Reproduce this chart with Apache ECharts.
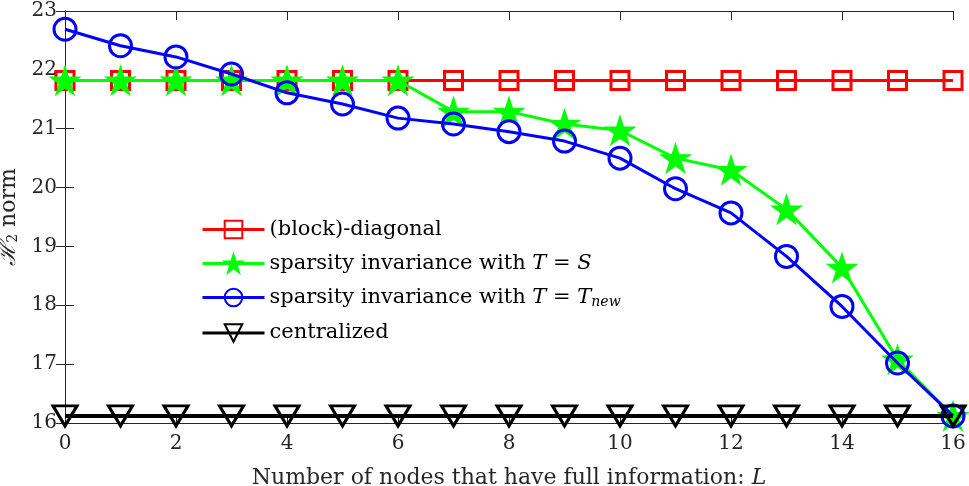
<!DOCTYPE html>
<html>
<head>
<meta charset="utf-8">
<script src="https://cdn.jsdelivr.net/npm/echarts@6/dist/echarts.min.js"></script>
<style>html,body{margin:0;padding:0;background:#fff}#c{width:969px;height:486px}</style>
</head>
<body>
<div id="c"></div>
<script>
const L = [0,1,2,3,4,5,6,7,8,9,10,11,12,13,14,15,16];
const blockDiag = [21.82,21.82,21.82,21.82,21.82,21.82,21.82,21.82,21.82,21.82,21.82,21.82,21.82,21.82,21.82,21.82,21.82];
const sparsityS = [21.82,21.82,21.82,21.82,21.82,21.82,21.82,21.29,21.29,21.08,20.97,20.50,20.30,19.63,18.64,17.08,16.12];
const sparsityTnew = [22.69,22.41,22.22,21.93,21.61,21.42,21.18,21.08,20.95,20.79,20.50,19.98,19.57,18.83,17.98,17.02,16.12];
const centralized = [16.12,16.12,16.12,16.12,16.12,16.12,16.12,16.12,16.12,16.12,16.12,16.12,16.12,16.12,16.12,16.12,16.12];
const names = ['(block)-diagonal','sparsity invariance with T = S','sparsity invariance with T = Tnew','centralized'];

const FONT = 'DejaVu Serif';
const AX = '#262626';
const star = 'path://M50 0 L61.23 34.55 L97.55 34.55 L68.17 55.9 L79.39 90.45 L50 69.1 L20.61 90.45 L31.83 55.9 L2.45 34.55 L38.77 34.55 Z';

function pairs(ys){ return L.map((x,i)=>[x, ys[i]]); }

const chart = echarts.init(document.getElementById('c'), null, {renderer:'canvas'});
const axisCommon = {
  axisLine:{show:true, lineStyle:{color:AX, width:1}},
  axisTick:{show:true, inside:true, length:9, lineStyle:{color:AX}},
  splitLine:{show:false}
};
chart.setOption({
  animation:false,
  backgroundColor:'#fff',
  grid:{left:65, right:16, top:11, bottom:63, show:false, containLabel:false, outerBoundsMode:'none'},
  legend:{
    orient:'vertical', left:196, top:214, itemWidth:62, itemHeight:22, itemGap:13,
    lineStyle:{width:3},
    textStyle:{fontFamily:FONT, fontSize:21, color:'#000',
      rich:{
        n:{fontFamily:FONT, fontSize:21, color:'#000'},
        i:{fontFamily:FONT, fontSize:21, fontStyle:'italic', color:'#000'},
        s:{fontFamily:FONT, fontSize:14, fontStyle:'italic', color:'#000', padding:[10,0,0,0]}
      }},
    formatter: function(name){
      if(name===names[1]) return '{n|sparsity invariance with }{i|T}{n| = }{i|S}';
      if(name===names[2]) return '{n|sparsity invariance with }{i|T}{n| = }{i|T}{s|new}';
      return '{n|'+name+'}';
    },
    data:names
  },
  xAxis:[
    Object.assign({type:'value', min:0, max:16, interval:2, position:'bottom',
      axisLabel:{fontFamily:FONT, fontSize:20, color:AX, margin:11},
      name:'Number of nodes that have full information: {i|L}', nameLocation:'middle', nameGap:44,
      nameTextStyle:{fontFamily:FONT, fontSize:22, color:AX,
        rich:{i:{fontFamily:FONT, fontSize:22, fontStyle:'italic', color:AX}}}
    }, axisCommon),
    Object.assign({type:'value', min:0, max:16, interval:2, position:'top', axisLabel:{show:false}}, axisCommon)
  ],
  yAxis:[
    Object.assign({type:'value', min:16, max:23, interval:1, position:'left',
      axisLabel:{fontFamily:FONT, fontSize:20, color:AX, margin:8},
      name:'{h|ℋ}{s|2}{n| norm}', nameLocation:'middle', nameGap:42, nameRotate:90,
      nameTextStyle:{fontFamily:FONT, fontSize:22, color:AX,
        rich:{h:{fontFamily:FONT, fontSize:22, fontStyle:'italic', color:AX},
              s:{fontFamily:FONT, fontSize:14, color:AX, padding:[9,0,0,0]},
              n:{fontFamily:FONT, fontSize:22, color:AX}}}
    }, axisCommon),
    Object.assign({type:'value', min:16, max:23, interval:1, position:'right', axisLabel:{show:false}}, axisCommon)
  ],
  series:[
    {name:names[0], type:'line', data:pairs(blockDiag), symbol:'rect', symbolSize:18,
      lineStyle:{color:'#ff0000', width:3}, itemStyle:{color:'rgba(0,0,0,0)', borderColor:'#ff0000', borderWidth:3}, z:2},
    {name:names[1], type:'line', data:pairs(sparsityS), symbol:star, symbolSize:[30,29],
      lineStyle:{color:'#00ff00', width:3}, itemStyle:{color:'#00ff00', borderColor:'#00ff00', borderWidth:1}, z:3},
    {name:names[2], type:'line', data:pairs(sparsityTnew), symbol:'circle', symbolSize:22,
      lineStyle:{color:'#0000ff', width:3}, itemStyle:{color:'rgba(0,0,0,0)', borderColor:'#0000ff', borderWidth:3}, z:4},
    {name:names[3], type:'line', data:pairs(centralized), symbol:'triangle', symbolRotate:180, symbolSize:[24,20],
      lineStyle:{color:'#000000', width:4}, itemStyle:{color:'rgba(0,0,0,0)', borderColor:'#000000', borderWidth:3}, z:5}
  ]
});
</script>
</body>
</html>
